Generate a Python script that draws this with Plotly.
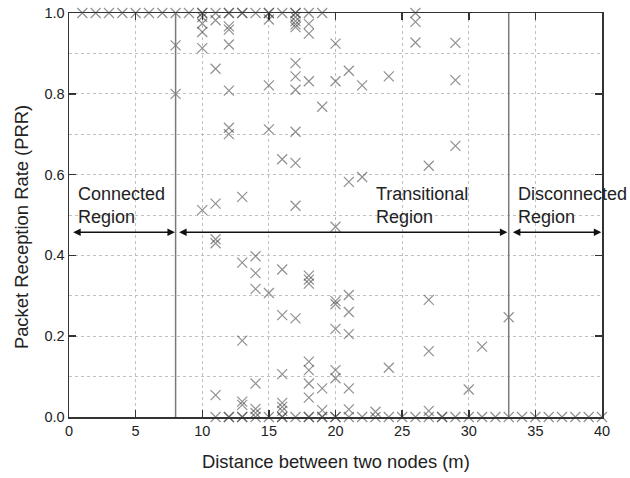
import plotly.graph_objects as go

# ---- data ----
top_row_x = [1, 2, 3, 4, 5, 6, 7, 8, 9, 10, 10, 11, 12, 12, 13, 13, 14, 15, 15, 16, 17, 17, 18, 19]
top_row_y = [1.0] * len(top_row_x)

bottom_row_x = [11, 12, 12, 13, 13, 14, 15, 16, 16, 17, 18, 18, 19, 19, 20, 20, 21, 22, 23, 24, 25,
                26, 27, 28, 28, 29, 30, 31, 32, 33, 34, 35, 36, 37, 38, 39, 40]
bottom_row_y = [0.0] * len(bottom_row_x)

mid_x = [8, 8,
         10, 10, 10, 10, 10,
         11, 11, 11, 11, 11, 11,
         12, 12, 12, 12, 12, 12,
         13, 13, 13, 13, 13,
         14, 14, 14, 14, 14, 14,
         15, 15, 15, 15,
         16, 16, 16, 16, 16, 16, 16,
         17, 17, 17, 17, 17, 17, 17, 17, 17, 17, 17,
         18, 18, 18, 18, 18, 18, 18, 18, 18, 18,
         19, 19, 19,
         20, 20, 20, 20, 20, 20, 20, 20,
         21, 21, 21, 21, 21, 21, 21,
         22, 22,
         23,
         24, 24,
         26, 26, 26,
         27, 27, 27, 27,
         29, 29, 29,
         30, 31, 33]
mid_y = [0.92, 0.80,
         0.99, 0.974, 0.953, 0.913, 0.512,
         0.982, 0.862, 0.528, 0.44, 0.43, 0.054,
         0.967, 0.959, 0.922, 0.808, 0.716, 0.70,
         0.545, 0.382, 0.189, 0.038, 0.03,
         0.398, 0.356, 0.317, 0.083, 0.02, 0.01,
         0.984, 0.821, 0.712, 0.307,
         0.638, 0.365, 0.252, 0.106, 0.035, 0.025, 0.015,
         0.99, 0.98, 0.972, 0.965, 0.876, 0.843, 0.81, 0.706, 0.629, 0.523, 0.244,
         0.973, 0.949, 0.831, 0.35, 0.34, 0.33, 0.137, 0.116, 0.083, 0.048,
         0.768, 0.071, 0.017,
         0.924, 0.831, 0.471, 0.287, 0.279, 0.218, 0.116, 0.096,
         0.857, 0.582, 0.302, 0.26, 0.205, 0.071, 0.019,
         0.821, 0.594,
         0.013,
         0.843, 0.122,
         1.0, 0.978, 0.927,
         0.622, 0.29, 0.163, 0.015,
         0.926, 0.834, 0.671,
         0.068, 0.174, 0.247]

region_bounds = [0, 8, 33, 40]
region_labels = ["Connected<br>Region", "Transitional<br>Region", "Disconnected<br>Region"]
region_label_x = [0.6, 23.0, 33.65]
arrow_y = 0.457
label_y = 0.524

x_ticks = [0, 5, 10, 15, 20, 25, 30, 35, 40]
y_ticks = [0.0, 0.2, 0.4, 0.6, 0.8, 1.0]
x_title = "Distance between two nodes (m)"
y_title = "Packet Reception Rate (PRR)"

FONT = "Liberation Sans, Arial, sans-serif"
AX = "#333333"

xs = top_row_x + mid_x + bottom_row_x
ys = top_row_y + mid_y + bottom_row_y

fig = go.Figure()
fig.add_trace(go.Scatter(
    x=xs, y=ys, mode="markers", cliponaxis=False, showlegend=False, hoverinfo="skip",
    marker=dict(symbol="x-thin", size=10, color="rgba(70,70,70,0.6)",
                line=dict(width=1.2, color="rgba(70,70,70,0.6)")),
))

# region boundary lines
for b in region_bounds[1:-1]:
    fig.add_shape(type="line", xref="x", yref="y", x0=b, x1=b, y0=0, y1=1,
                  line=dict(color="#7a7a7a", width=1.5))

# double-headed arrows and region labels
pad = [(0.2, -0.05), (0.15, -0.1), (0.2, -0.05)]
for i in range(3):
    x0 = region_bounds[i] + pad[i][0]
    x1 = region_bounds[i + 1] + pad[i][1]
    fig.add_annotation(x=x1, y=arrow_y, ax=x0, ay=arrow_y, xref="x", yref="y",
                       axref="x", ayref="y", text="", showarrow=True,
                       arrowhead=2, arrowside="end+start", arrowsize=1.0,
                       arrowwidth=1.5, arrowcolor="#111111",
                       standoff=0, startstandoff=0)
    fig.add_annotation(x=region_label_x[i], y=label_y, xref="x", yref="y",
                       text=region_labels[i], showarrow=False, align="left",
                       xanchor="left", yanchor="middle", borderpad=0,
                       font=dict(family=FONT, size=18, color="#222222"))

# axis titles as annotations for exact placement
fig.add_annotation(x=0.5, y=-0.109, xref="paper", yref="paper", text=x_title,
                   showarrow=False, xanchor="center", yanchor="middle",
                   font=dict(family=FONT, size=18.4, color="#222222"))
fig.add_annotation(x=0, y=0.47, xref="paper", yref="paper", text=y_title,
                   showarrow=False, xanchor="center", yanchor="middle",
                   textangle=-90, xshift=-48,
                   font=dict(family=FONT, size=18.4, color="#222222"))

fig.update_layout(
    width=630, height=478,
    margin=dict(l=69, r=28, t=13, b=61),
    paper_bgcolor="white", plot_bgcolor="white",
    hovermode=False,
    font=dict(family=FONT, size=14, color="#222222"),
)
fig.update_xaxes(
    range=[0, 40], tickvals=x_ticks, ticktext=[str(v) for v in x_ticks],
    ticks="inside", ticklen=7, tickwidth=1.5, tickcolor=AX,
    showline=True, linecolor=AX, linewidth=1.5, mirror="ticks",
    showgrid=True, gridcolor="#c0c0c0", griddash="dot", gridwidth=1,
    zeroline=False, tickfont=dict(size=14.5), automargin=False,
)
fig.update_yaxes(
    range=[0, 1], tickvals=y_ticks, ticktext=[f"{v:.1f}" for v in y_ticks],
    ticks="inside", ticklen=7, tickwidth=1.5, tickcolor=AX,
    showline=True, linecolor=AX, linewidth=1.5, mirror="ticks",
    showgrid=True, gridcolor="#c0c0c0", griddash="dot", gridwidth=1,
    minor=dict(dtick=0.1, showgrid=True, gridcolor="#c0c0c0", griddash="dot", ticks=""),
    zeroline=False, tickfont=dict(size=14.5), automargin=False,
    ticklabeloverflow="allow",
)

# remove the default page margin so the 630x478 figure fills the window exactly
fig.write_html("out.html",
               config={"displayModeBar": False, "staticPlot": True},
               post_script="document.body.style.margin='0';document.body.style.overflow='hidden';")
